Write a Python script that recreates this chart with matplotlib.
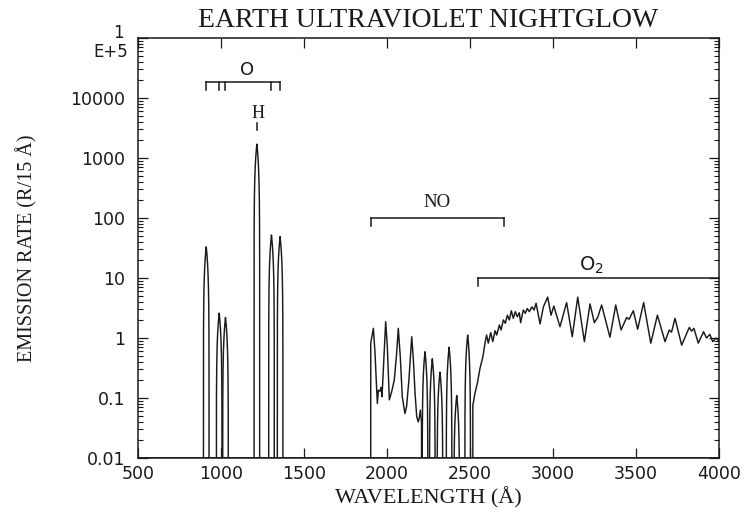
import numpy as np
import matplotlib
matplotlib.use("Agg")
import matplotlib.pyplot as plt
from matplotlib.ticker import FixedLocator, FixedFormatter, LogLocator, NullFormatter

# Atomic emission lines (wavelength in Å) and peak rates (R / 15 Å)
atomic_lines = [911, 989, 1027, 1216, 1304, 1356]
atomic_peaks = [33, 2.6, 2.2, 1700, 52, 49]

# NO band system, blended part of the spectrum
no_wavelength = [1901, 1902, 1918, 1928, 1938, 1942, 1948, 1958, 1964, 1970,
                 1992, 2002, 2014, 2028, 2044, 2058, 2068, 2080, 2092, 2108,
                 2118, 2132, 2149, 2159, 2169, 2179, 2188, 2194, 2201, 2208, 2209]
no_rate = [0, 0.82, 1.45, 0.55, 0.135, 0.081, 0.135, 0.13, 0.15, 0.105,
           1.87, 0.72, 0.093, 0.127, 0.2, 0.55, 1.45, 0.49, 0.105, 0.055,
           0.072, 0.2, 1.05, 0.43, 0.12, 0.049, 0.04, 0.046, 0.063, 0.038, 0]

# NO bands resolved at longer wavelengths
no_band_lines = [2229, 2273, 2319, 2374, 2420, 2486]
no_band_peaks = [0.59, 0.45, 0.27, 0.70, 0.11, 1.12]

# O2 Herzberg emission
o2_wavelength = [2515, 2517, 2530, 2545, 2560, 2578, 2592, 2600, 2610, 2625,
                 2637, 2651, 2661, 2677, 2687, 2701, 2713, 2725, 2737, 2749,
                 2761, 2773, 2785, 2797, 2805, 2821, 2833, 2845, 2857, 2873,
                 2886, 2898, 2922, 2942, 2968, 2988, 3005, 3042, 3082, 3116,
                 3149, 3189, 3223, 3249, 3269, 3293, 3343, 3378, 3410, 3444,
                 3458, 3484, 3510, 3546, 3589, 3629, 3675, 3700, 3714, 3735,
                 3775, 3821, 3835, 3849, 3875, 3907, 3925, 3945, 3962, 3982, 3998]
o2_rate = [0, 0.075, 0.12, 0.18, 0.31, 0.49, 0.88, 1.12, 0.82, 1.23,
           0.87, 1.32, 1.12, 1.65, 1.36, 2.0, 1.76, 2.4, 2.0, 2.85,
           2.13, 2.75, 2.26, 2.64, 1.8, 2.93, 2.58, 3.1, 2.75, 3.3,
           2.93, 3.8, 1.71, 3.3, 4.8, 2.4, 3.4, 1.54, 3.9, 1.05,
           4.8, 0.87, 3.7, 1.8, 2.2, 3.55, 1.03, 3.55, 1.36, 2.2,
           2.05, 2.85, 1.4, 3.9, 0.82, 2.4, 0.87, 1.36, 1.25, 2.13,
           0.76, 1.5, 1.3, 1.45, 0.82, 1.27, 1.0, 1.15, 0.87, 1.0, 0.9]

# Axis ticks; the top decade is written as "1" over "E+5"
x_ticks = [500, 1000, 1500, 2000, 2500, 3000, 3500, 4000]
y_ticks = [0.01, 0.1, 1, 10, 100, 1000, 10000, 1e5]
y_tick_labels = ["0.01", "0.1", "1", "10", "100", "1000", "10000", ""]
top_mantissa_label = "1"
top_exponent_label = "E+5"

# Oxygen lines marked under the "O" bracket
o_bracket_ticks = [911, 989, 1027, 1304, 1356]

SERIF = ["Liberation Serif", "DejaVu Serif"]
SANS = ["DejaVu Sans"]
INK = "#1a1a1a"

fig = plt.figure(figsize=(7.49, 5.12), dpi=100)
ax = fig.add_axes([138 / 749, 1 - 458 / 512, (719 - 138) / 749, (458 - 38) / 512])
ax.set_yscale("log", nonpositive="clip")
ax.set_xlim(500, 4000)
ax.set_ylim(0.01, 1e5)

# Instrument profile: triangular slit function, 15 Å resolution
half_width = 17.0
slit = np.linspace(-1.0, 1.0, 201)
LW = 1.05


def draw_line(center, peak):
    ax.plot(center + slit * half_width, peak * (1.0 - np.abs(slit)),
            color=INK, lw=LW, solid_joinstyle="round")


for c, p in zip(atomic_lines, atomic_peaks):
    draw_line(c, p)
for c, p in zip(no_band_lines, no_band_peaks):
    draw_line(c, p)

ax.plot(no_wavelength, no_rate, color=INK, lw=LW, solid_joinstyle="round")
ax.plot(o2_wavelength, o2_rate, color=INK, lw=LW, solid_joinstyle="round")

# Baseline along the bottom where the spectrum is dark
ax.axhline(0.01, color=INK, lw=1.2)


def bracket(x0, x1, level, ticks, drop=0.14):
    low = level / 10 ** drop
    ax.plot([x0, x1], [level, level], color=INK, lw=1.1, clip_on=False)
    for t in ticks:
        ax.plot([t, t], [level, low], color=INK, lw=1.1, clip_on=False)


bracket(911, 1356, 18600, o_bracket_ticks)
ax.text(1160, 29000, "O", ha="center", va="center", fontsize=13,
        family=SANS, color=INK)
ax.plot([1216, 1216], [2900, 3800], color=INK, lw=1.1)
ax.text(1221, 5600, "H", ha="center", va="center", fontsize=13,
        family=SERIF, color=INK)

bracket(1902, 2705, 100, [1902, 2705])
ax.text(2303, 180, "NO", ha="center", va="center", fontsize=13.5,
        family=SERIF, color=INK)

bracket(2550, 4000, 10, [2550])
ax.text(3230, 16, r"$\mathregular{O_2}$", ha="center", va="center",
        fontsize=14, family=SANS, color=INK)

# Axes styling
ax.xaxis.set_major_locator(FixedLocator(x_ticks))
ax.yaxis.set_major_locator(FixedLocator(y_ticks))
ax.yaxis.set_major_formatter(FixedFormatter(y_tick_labels))
ax.yaxis.set_minor_locator(LogLocator(base=10, subs=np.arange(2, 10)))
ax.yaxis.set_minor_formatter(NullFormatter())
ax.tick_params(axis="both", which="both", direction="in", top=True, right=True,
               color=INK)
ax.tick_params(axis="both", which="major", length=7, width=0.9)
ax.tick_params(axis="both", which="minor", length=3.5, width=0.8)
ax.tick_params(axis="y", which="major", pad=9, labelsize=12.5)
ax.tick_params(axis="x", which="major", pad=5, labelsize=12.5)
for lab in ax.get_xticklabels() + ax.get_yticklabels():
    lab.set_family(SANS)
    lab.set_color(INK)
for s in ax.spines.values():
    s.set_linewidth(1.1)
    s.set_color(INK)

# Top decade label: mantissa above exponent
ytrans = ax.get_yaxis_transform()
ax.text(-0.024, 10 ** (5 + 0.09), top_mantissa_label, transform=ytrans,
        ha="right", va="center", fontsize=12, family=SANS, color=INK)
ax.text(-0.017, 10 ** (5 - 0.23), top_exponent_label, transform=ytrans,
        ha="right", va="center", fontsize=12, family=SANS, color=INK)

ax.set_title("EARTH ULTRAVIOLET NIGHTGLOW", family=SERIF, fontsize=20,
             color=INK, pad=8)
ax.set_xlabel("WAVELENGTH (Å)", family=SERIF, fontsize=16, color=INK,
              labelpad=3)
ax.set_ylabel("EMISSION RATE (R/15 Å)", family=SERIF, fontsize=14.5, color=INK,
              labelpad=24)

fig.savefig("out.png", dpi=100, facecolor="white")
